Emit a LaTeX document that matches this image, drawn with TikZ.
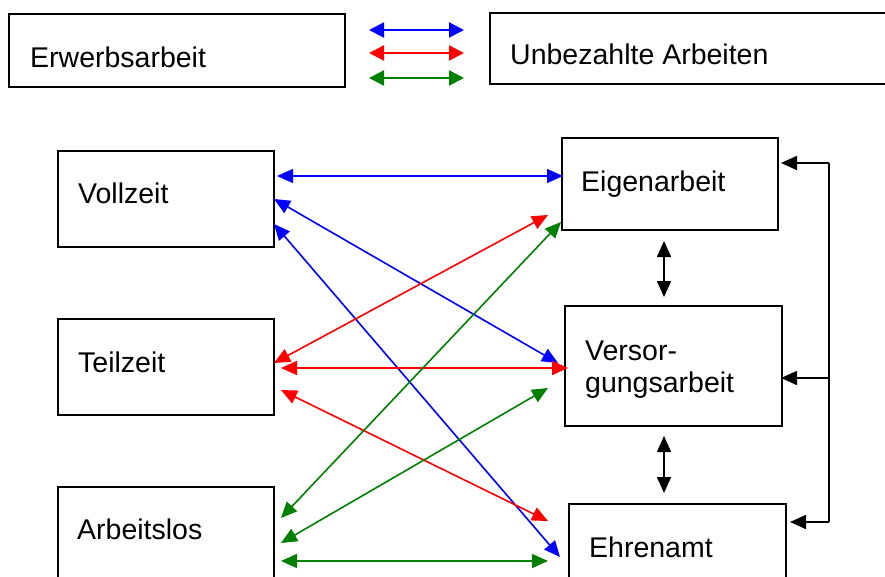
\documentclass[tikz,border=0pt]{standalone}
\usepackage{fontspec}
\setmainfont{Liberation Sans}
\usetikzlibrary{arrows.meta}
\definecolor{cblue}{RGB}{0,0,255}
\definecolor{cred}{RGB}{255,0,0}
\definecolor{cgreen}{RGB}{0,128,0}
\begin{document}
\begin{tikzpicture}[x=1pt,y=-1pt,
  box/.style={draw, line width=2pt, inner sep=0pt, anchor=north west},
  lbl/.style={anchor=base west, inner sep=0pt, font=\fontsize{28.5}{33}\selectfont},
  tip/.tip={Triangle[length=16pt,width=14pt]},
  dbl/.style={line width=1.6pt, tip-tip},
  sgl/.style={line width=1.6pt, -tip},
  legend/.style={line width=2.2pt, {Triangle[length=15pt,width=15pt]}-{Triangle[length=15pt,width=15pt]}},
]
\clip (0,0) rectangle (885,577);
\fill[white] (0,0) rectangle (885,577);

% top boxes
\node[box, minimum width=336pt, minimum height=73pt] (erw) at (8,13) {};
\node[box, minimum width=420pt, minimum height=71pt] (unb) at (489,12) {};
\node[lbl] (erwT) at (30,68) {Erwerbsarbeit};
\node[lbl] (unbT) at (510,65) {Unbezahlte Arbeiten};

% legend arrows
\coordinate (lb1) at (369,30); \coordinate (lb2) at (464,30);
\coordinate (lr1) at (369,53); \coordinate (lr2) at (464,53);
\coordinate (lg1) at (369,78); \coordinate (lg2) at (464,78);
\draw[legend, cblue] (lb1) -- (lb2);
\draw[legend, cred] (lr1) -- (lr2);
\draw[legend, cgreen] (lg1) -- (lg2);

% left boxes
\node[box, minimum width=216pt, minimum height=96pt] (voll) at (57,150) {};
\node[box, minimum width=216pt, minimum height=96pt] (teil) at (57,318) {};
\node[box, minimum width=216pt, minimum height=110pt] (arb) at (57,486) {};
\node[lbl] (vollT) at (78,204) {Vollzeit};
\node[lbl] (teilT) at (78,372) {Teilzeit};
\node[lbl] (arbT) at (77,539) {Arbeitslos};

% right boxes
\node[box, minimum width=216pt, minimum height=92pt] (eigen) at (561,137) {};
\node[box, minimum width=217pt, minimum height=120pt] (vers) at (564,305) {};
\node[box, minimum width=217pt, minimum height=100pt] (ehren) at (568,503) {};
\node[lbl] (eigenT) at (581,192) {Eigenarbeit};
\node[lbl] (versT1) at (585,360) {Versor-};
\node[lbl] (versT2) at (585,392) {gungsarbeit};
\node[lbl] (ehrenT) at (589,557) {Ehrenamt};

% connector end points
\coordinate (v1) at (277,176); \coordinate (e1) at (563,176);
\coordinate (v2) at (274,199); \coordinate (s1) at (558,363);
\coordinate (v3) at (274,224); \coordinate (h1) at (560,557);
\coordinate (t1) at (274,363); \coordinate (e2) at (548,215);
\coordinate (t2) at (281,368); \coordinate (s2) at (568,368);
\coordinate (t3) at (281,390); \coordinate (h2) at (548,521);
\coordinate (a1) at (281,518); \coordinate (e3) at (561,222);
\coordinate (a2) at (281,543); \coordinate (s3) at (548,388);
\coordinate (a3) at (281,561); \coordinate (h3) at (548,561);

\draw[dbl, cblue] (v1) -- (e1);
\draw[dbl, cblue] (v2) -- (s1);
\draw[dbl, cblue] (v3) -- (h1);
\draw[dbl, cred] (t1) -- (e2);
\draw[dbl, cred] (t2) -- (s2);
\draw[dbl, cred] (t3) -- (h2);
\draw[dbl, cgreen] (a1) -- (e3);
\draw[dbl, cgreen] (a2) -- (s3);
\draw[dbl, cgreen] (a3) -- (h3);

% vertical double arrows
\coordinate (m1) at (664,241); \coordinate (m2) at (664,297);
\coordinate (m3) at (664,436); \coordinate (m4) at (664,493);
\draw[dbl] (m1) -- (m2);
\draw[dbl] (m3) -- (m4);

% right bracket
\coordinate (b1) at (829,163); \coordinate (b2) at (829,378); \coordinate (b3) at (829,522);
\coordinate (k1) at (781,163); \coordinate (k2) at (781,378); \coordinate (k3) at (790,522);
\draw[line width=1.6pt] (b1) -- (b3);
\draw[sgl] (b1) -- (k1);
\draw[sgl] (b2) -- (k2);
\draw[sgl] (b3) -- (k3);
\end{tikzpicture}
\end{document}
